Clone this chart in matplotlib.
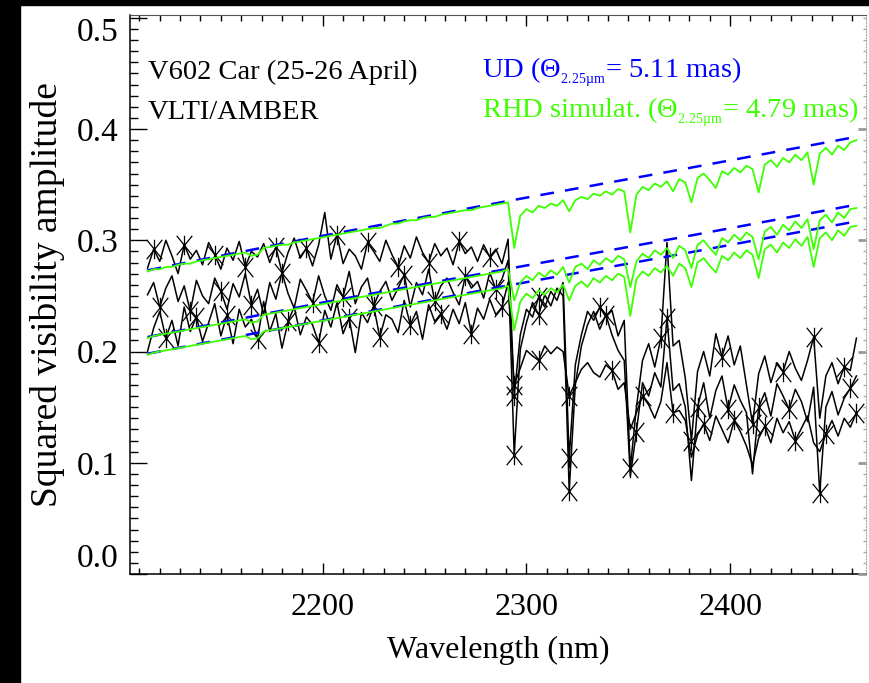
import numpy as np
import matplotlib
matplotlib.use("Agg")
import matplotlib.pyplot as plt
from matplotlib.path import Path
from matplotlib.patches import Rectangle
from matplotlib.ticker import MultipleLocator

plt.rcParams['font.family'] = ['Liberation Serif', 'DejaVu Serif']
plt.rcParams['mathtext.fontset'] = 'custom'
plt.rcParams['mathtext.rm'] = 'Liberation Serif'
plt.rcParams['mathtext.it'] = 'Liberation Serif:italic'

# wavelength grid (nm), one sample every 3 nm
wavelength = np.arange(2114, 2463, 3)

# uniform-disk model (blue dashed), sampled coarsely
ud_wl = [2114, 2200, 2290, 2380, 2462]
ud_top = [0.273, 0.304, 0.335, 0.365, 0.393]
ud_mid = [0.213, 0.244, 0.274, 0.304, 0.332]
ud_bot = [0.198, 0.228, 0.259, 0.289, 0.317]

# RHD simulation (green)
rhd_top = [
    .272, .274, .274, .276, .276, .278, .279, .279, .281, .282,
    .283, .284, .285, .286, .287, .288, .289, .286, .287, .293,
    .294, .295, .296, .296, .298, .299, .300, .301, .302, .303,
    .304, .305, .306, .307, .308, .309, .310, .311, .311, .313,
    .315, .315, .317, .318, .318, .320, .321, .321, .323, .324,
    .325, .326, .327, .327, .329, .330, .331, .332, .333, .334,
    .293, .322, .328, .325, .331, .329, .333, .331, .336, .326,
    .336, .339, .337, .342, .340, .344, .341, .346, .344, .307,
    .341, .348, .345, .351, .348, .353, .344, .355, .352, .334,
    .356, .360, .354, .347, .362, .359, .365, .361, .367, .364,
    .343, .368, .372, .366, .374, .370, .377, .372, .379, .350,
    .378, .383, .377, .385, .381, .388, .390]
rhd_mid = [
    .212, .214, .215, .216, .217, .218, .219, .220, .221, .222,
    .223, .224, .225, .226, .227, .228, .229, .226, .227, .233,
    .234, .235, .236, .237, .238, .239, .240, .241, .242, .243,
    .244, .245, .246, .247, .248, .249, .250, .251, .252, .253,
    .254, .255, .256, .257, .258, .259, .260, .261, .262, .263,
    .264, .265, .266, .267, .268, .269, .270, .271, .272, .274,
    .246, .262, .268, .264, .271, .267, .273, .269, .276, .262,
    .276, .279, .274, .282, .278, .284, .280, .286, .283, .258,
    .281, .288, .284, .291, .287, .293, .284, .295, .291, .275,
    .296, .300, .293, .287, .302, .298, .305, .300, .307, .303,
    .283, .308, .312, .305, .314, .309, .317, .311, .319, .292,
    .318, .323, .316, .325, .320, .328, .329]
rhd_bot = [
    .197, .199, .200, .201, .202, .203, .204, .205, .206, .207,
    .208, .209, .210, .211, .212, .213, .214, .211, .212, .218,
    .219, .220, .221, .222, .223, .224, .225, .226, .227, .228,
    .229, .230, .231, .232, .233, .234, .235, .236, .237, .238,
    .239, .240, .241, .242, .243, .244, .245, .246, .247, .248,
    .249, .250, .251, .252, .253, .254, .255, .256, .257, .259,
    .219, .245, .252, .248, .255, .251, .257, .253, .260, .246,
    .259, .263, .258, .266, .262, .268, .264, .270, .267, .232,
    .265, .272, .268, .275, .271, .277, .268, .279, .275, .258,
    .280, .284, .277, .271, .286, .282, .289, .284, .291, .287,
    .266, .292, .296, .289, .298, .293, .301, .295, .303, .276,
    .302, .307, .300, .309, .304, .312, .313]

# AMBER measurements (black, three baselines)
obs_1 = [
    .275, .292, .281, .300, .286, .270, .296, .283, .291, .278,
    .298, .287, .274, .293, .282, .299, .276, .290, .285, .297,
    .280, .294, .271, .289, .302, .284, .293, .277, .296, .325,
    .283, .305, .279, .292, .286, .274, .298, .290, .281, .300,
    .287, .276, .295, .284, .303, .289, .280, .297, .286, .293,
    .278, .299, .288, .294, .281, .296, .285, .292, .279, .301,
    .160, .215, .238, .231, .249, .240, .254, .246, .262, .104,
    .188, .215, .236, .228, .240, .231, .237, .214, .228, .095,
    .150, .192, .207, .186, .212, .298, .205, .210, .176, .120,
    .182, .200, .178, .216, .195, .214, .188, .205, .170, .135,
    .180, .196, .172, .190, .182, .200, .185, .174, .192, .213,
    .140, .178, .190, .171, .186, .183, .212]
obs_2 = [
    .251, .262, .240, .257, .268, .245, .259, .236, .264, .250,
    .243, .266, .254, .238, .261, .249, .270, .242, .256, .233,
    .262, .247, .271, .252, .239, .265, .255, .244, .268, .250,
    .237, .260, .249, .272, .243, .258, .266, .241, .254, .263,
    .246, .257, .269, .240, .262, .251, .274, .245, .259, .266,
    .253, .242, .268, .257, .263, .248, .271, .256, .265, .282,
    .107, .202, .226, .244, .233, .251, .241, .257, .250, .075,
    .170, .205, .224, .236, .220, .233, .215, .201, .192, .088,
    .128, .172, .160, .181, .168, .230, .165, .171, .150, .084,
    .150, .172, .140, .165, .178, .148, .170, .156, .145, .090,
    .150, .163, .142, .171, .160, .148, .166, .155, .137, .168,
    .073, .150, .164, .143, .158, .167, .178]
obs_3 = [
    .200, .221, .236, .212, .228, .205, .240, .218, .231, .209,
    .226, .243, .214, .233, .207, .238, .222, .229, .211, .245,
    .218, .234, .203, .227, .240, .215, .231, .224, .208, .237,
    .222, .244, .216, .230, .199, .235, .226, .241, .213, .233,
    .229, .217, .246, .224, .236, .211, .242, .227, .234, .220,
    .238, .225, .244, .216, .239, .229, .247, .233, .240, .262,
    .170, .185, .201, .196, .192, .205, .198, .204, .200, .160,
    .172, .184, .190, .181, .177, .188, .183, .166, .172, .130,
    .145, .160, .152, .140, .155, .190, .145, .147, .138, .105,
    .125, .135, .120, .142, .130, .118, .138, .128, .115, .098,
    .122, .133, .118, .140, .127, .137, .120, .131, .142, .118,
    .110, .126, .138, .124, .140, .132, .145]

GREEN = '#3cff00'
BLUE = '#0000ff'

# IDL-style asterisk: vertical bar plus an X
star = Path([(0, -1), (0, 1), (-0.8, -1), (0.8, 1), (-0.8, 1), (0.8, -1)],
            [Path.MOVETO, Path.LINETO, Path.MOVETO, Path.LINETO, Path.MOVETO, Path.LINETO])

fig = plt.figure(figsize=(8.7, 6.83), dpi=100)
fig.patch.set_facecolor('white')
ax = fig.add_axes([130 / 870, 1 - 574 / 683, 736 / 870, 559 / 683])

n = len(wavelength)
for k, obs in enumerate([obs_1, obs_2, obs_3]):
    marks = list(range(k + 1, 60, 5)) + [60, 64, 69] + list(range(74 + k, n, 5))
    ax.plot(wavelength, obs, color='black', lw=1.1, marker=star, markersize=14,
            markeredgewidth=0.9, markevery=marks, zorder=2)

for ud in [ud_top, ud_mid, ud_bot]:
    line, = ax.plot(ud_wl, ud, color=BLUE, lw=1.8, zorder=3)
    line.set_dashes((5.5, 4.5))

for rhd in [rhd_top, rhd_mid, rhd_bot]:
    ax.plot(wavelength, rhd, color=GREEN, lw=1.3, zorder=4)

ax.set_xlim(2105.4, 2466.7)
ax.set_ylim(0, 0.5025)
ax.set_xticks([2200, 2300, 2400])
ax.xaxis.set_minor_locator(MultipleLocator(10))
ax.set_yticks([0.0, 0.1, 0.2, 0.3, 0.4, 0.5])
ax.set_yticklabels(['0.0', '0.1', '0.2', '0.3', '0.4', '0.5'])
ax.yaxis.set_minor_locator(MultipleLocator(0.01))

ax.tick_params(axis='x', which='major', direction='in', length=8, width=1,
               labelsize=23, pad=14, top=True)
ax.tick_params(axis='x', which='minor', direction='in', length=4.5, width=1, top=True)
ax.tick_params(axis='y', which='major', direction='in', length=12, width=1,
               labelsize=24, pad=8, right=False)
ax.tick_params(axis='y', which='minor', direction='in', length=6, width=1, right=False)

labels = ax.get_yticklabels()
labels[0].set_va('bottom')
labels[-1].set_va('top')

for side in ['left', 'bottom']:
    ax.spines[side].set_linewidth(1.1)
ax.spines['top'].set_color('#555555')
ax.spines['right'].set_color('#aaaaaa')
ax.spines['right'].set_linestyle(':')

# grey ticks on the right-hand axis
ax2 = ax.twinx()
ax2.set_ylim(ax.get_ylim())
ax2.set_yticks([0.0, 0.1, 0.2, 0.3, 0.4])
ax2.yaxis.set_minor_locator(MultipleLocator(0.01))
ax2.tick_params(axis='y', which='major', direction='in', length=6, width=2,
                color='#999999', labelright=False)
ax2.tick_params(axis='y', which='minor', direction='in', length=2, width=1,
                color='#aaaaaa')
for side in ax2.spines:
    ax2.spines[side].set_visible(False)

ax.set_xlabel('Wavelength (nm)', fontsize=23, labelpad=10)
ax.set_ylabel('Squared visibility amplitude', fontsize=27, labelpad=9)

sub = r'$_{{}_{\mathrm{2.25µm}}}$'
ax.text(0.024, 0.898, 'V602 Car (25-26 April)', transform=ax.transAxes,
        fontsize=20.5, va='center', ha='left')
ax.text(0.024, 0.826, 'VLTI/AMBER', transform=ax.transAxes,
        fontsize=20.5, va='center', ha='left')
ax.text(0.478, 0.898, 'UD (Θ' + sub + '= 5.11 mas)', transform=ax.transAxes,
        fontsize=20.5, va='center', ha='left', color=BLUE)
ax.text(0.478, 0.826, 'RHD simulat. (Θ' + sub + '= 4.79 mas)', transform=ax.transAxes,
        fontsize=20.5, va='center', ha='left', color=GREEN)

# dark scan border of the original page
fig.add_artist(Rectangle((0, 0), 20 / 870, 1, transform=fig.transFigure,
                         color='black', zorder=10))
fig.add_artist(Rectangle((0, 1 - 5 / 683), 1, 5 / 683, transform=fig.transFigure,
                         color='black', zorder=10))

fig.savefig('out.png', dpi=100)
